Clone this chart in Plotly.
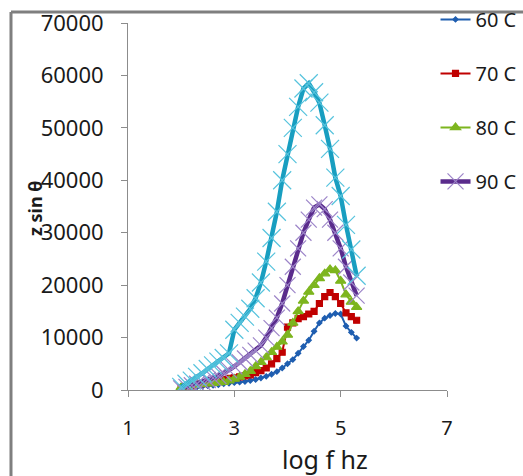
# z sin theta vs log f for several temperatures

import plotly.graph_objects as go

# log frequency grid (shared by all series)
log_f = [2.0, 2.1, 2.2, 2.3, 2.4, 2.5, 2.6, 2.7, 2.8, 2.9,
         3.0, 3.1, 3.2, 3.3, 3.4, 3.5, 3.6, 3.7, 3.8, 3.9,
         4.0, 4.1, 4.2, 4.3, 4.4, 4.5, 4.6, 4.7, 4.8, 4.9,
         5.0, 5.1, 5.2, 5.3]

z_60 = [300, 400, 500, 600, 700, 800, 900, 1000, 1200, 1300,
        1400, 1500, 1600, 1800, 2000, 2300, 2600, 3000, 3500, 4200,
        5000, 5800, 7000, 8300, 9500, 11200, 12800, 13700, 14200, 14600,
        14500, 12200, 11000, 9900]

z_70 = [400, 600, 800, 1000, 1200, 1400, 1600, 1800, 2000, 2200,
        2300, 2500, 2700, 2900, 3300, 3700, 4200, 5000, 6000, 7200,
        12000, 12800, 13600, 14000, 14500, 15000, 16500, 17800, 18600, 17800,
        16500, 14700, 14000, 13300]

z_80 = [500, 700, 900, 1000, 1100, 1200, 1300, 1400, 1500, 1800,
        2100, 2500, 3000, 3600, 4500, 5300, 6200, 7200, 8200, 9200,
        10500, 12800, 15000, 17000, 18700, 20000, 21300, 22200, 23000, 22800,
        20800, 18200, 16800, 15800]

z_90 = [300, 600, 900, 1200, 1500, 1900, 2300, 2700, 3200, 3800,
        4500, 5300, 6000, 6700, 7500, 8500, 10000, 11800, 13800, 16500,
        20000, 23500, 27000, 30000, 32500, 34800, 35400, 34500, 32500, 30000,
        27000, 23500, 20500, 18000]

z_100 = [600, 1200, 1800, 2500, 3200, 4000, 4700, 5400, 6100, 7000,
         11500, 12800, 14000, 15500, 17500, 20500, 24500, 29000, 34000, 40000,
         45000, 50000, 54000, 57500, 58500, 56800, 54800, 50500, 46000, 40500,
         37000, 31500, 26800, 21800]

font = "Noto Sans"

fig = go.Figure()

# name, values, line colour, line width, marker symbol, marker size, marker colour, legend
series = [
    ("60 C", z_60, "#1F5EB0", 2, "diamond", 4, "#1F5EB0", True),
    ("70 C", z_70, "#C00000", 2, "square", 6, "#C00000", True),
    ("80 C", z_80, "#7DB51E", 2, "triangle-up", 9, "#7DB51E", True),
    ("90 C", z_90, "#5A2B8C", 4.5, "x-thin-open", 16, "#9C84C8", True),
    ("100 C", z_100, "#189EC0", 4.5, "x-thin-open", 18, "#56C3DD", False),
]

for i, (name, vals, col, lw, sym, ms, mcol, show) in enumerate(series):
    fig.add_trace(go.Scatter(
        x=log_f, y=vals, name=name, mode="lines+markers",
        line=dict(color=col, width=lw),
        marker=dict(symbol=sym, size=ms, color=mcol,
                    line=dict(color=mcol, width=1.2)),
        showlegend=show, legendgroup="g" + str(i),
    ))

fig.update_layout(
    width=523, height=476,
    margin=dict(l=128, r=76, t=23, b=86, autoexpand=False),
    paper_bgcolor="white", plot_bgcolor="white",
    font=dict(family=font, color="#1a1a1a"),
    legend=dict(x=0.964, y=1.063, xanchor="left", yanchor="top",
                font=dict(size=20, family=font, color="#1a1a1a"),
                tracegroupgap=25, bgcolor="rgba(0,0,0,0)"),
)

fig.update_xaxes(range=[1, 7], dtick=2, tick0=1, showgrid=False, zeroline=False,
                 showline=True, linecolor="#8c8c8c", linewidth=1,
                 ticks="outside", ticklen=6, tickcolor="#8c8c8c",
                 tickfont=dict(size=20), ticklabelstandoff=14, automargin=False,
                 ticklabeloverflow="allow")
fig.update_yaxes(range=[0, 70000], dtick=10000, showgrid=False, zeroline=False,
                 showline=True, linecolor="#8c8c8c", linewidth=1, tickformat="d",
                 ticks="outside", ticklen=6, tickcolor="#8c8c8c",
                 tickfont=dict(size=22), ticklabelstandoff=13, automargin=False,
                 ticklabeloverflow="allow")

# axis titles
fig.add_annotation(text="log f hz", xref="paper", yref="paper", x=0.6176, y=-0.188,
                   xanchor="center", yanchor="middle",
                   showarrow=False, font=dict(size=25, color="#1a1a1a"))
fig.add_annotation(text="<b>z sin θ</b>", xref="paper", yref="paper", x=-0.2915, y=0.493,
                   xanchor="center", yanchor="middle",
                   textangle=-90, showarrow=False, font=dict(size=18, color="#1a1a1a"))

# outer chart frame (left and top edges; the rest falls outside the window)
frame = dict(color="#7f7f7f", width=3)
fig.add_shape(type="line", xref="paper", yref="paper", x0=-0.3668, y0=-0.25, x1=-0.3668, y1=1.03,
              line=frame, layer="above")
fig.add_shape(type="line", xref="paper", yref="paper", x0=-0.3668, y0=1.03, x1=1.25, y1=1.03,
              line=frame, layer="above")

# drop the browser's default body margin so the figure sits at the window corner
fig.write_html("out.html", config={"displayModeBar": False},
               post_script="document.body.style.margin='0';")
